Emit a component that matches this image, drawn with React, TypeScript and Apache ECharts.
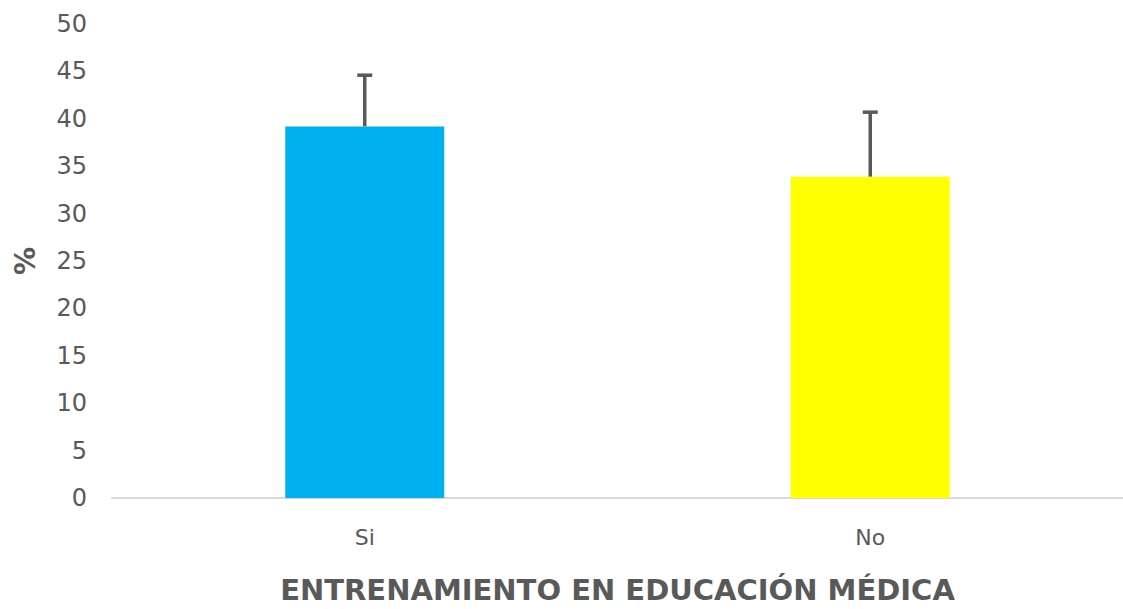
import React, { useEffect, useRef } from "react";
import * as echarts from "echarts";

const categories = ["Si", "No"];
const values = [39.2, 33.9];
const upperValues = [44.6, 40.7];
const barColors = ["#00B0F0", "#FFFF00"];
const yTicks = { min: 0, max: 50, interval: 5 };

export default function App() {
  const ref = useRef<HTMLDivElement>(null);
  useEffect(() => {
    document.body.style.margin = "0";
    if (!ref.current) return;
    const chart = echarts.init(ref.current, undefined, { renderer: "svg" });
    const font = "'DejaVu Sans', 'Open Sans', sans-serif";
    chart.setOption({
      animation: false,
      backgroundColor: "#ffffff",
      grid: { left: 112, top: 24, width: 1022, height: 478 },
      xAxis: {
        type: "category",
        data: categories,
        axisTick: { show: false },
        axisLine: { lineStyle: { color: "#d9d9d9", width: 2 } },
        axisLabel: { color: "#595959", fontSize: 22, fontFamily: font, margin: 28 },
        name: "ENTRENAMIENTO EN EDUCACIÓN MÉDICA",
        nameLocation: "middle",
        nameGap: 77,
        nameTextStyle: { color: "#595959", fontSize: 29, fontWeight: "bold", fontFamily: font },
      },
      yAxis: {
        type: "value",
        min: yTicks.min,
        max: yTicks.max,
        interval: yTicks.interval,
        splitLine: { show: false },
        axisLine: { show: false },
        axisTick: { show: false },
        axisLabel: { color: "#595959", fontSize: 24, fontFamily: font, margin: 25 },
        name: "%",
        nameLocation: "middle",
        nameRotate: 90,
        nameGap: 73,
        nameTextStyle: { color: "#595959", fontSize: 28, fontWeight: "bold", fontFamily: font },
      },
      series: [
        {
          type: "bar",
          barWidth: 159,
          data: values.map((v, i) => ({ value: v, itemStyle: { color: barColors[i] } })),
        },
        {
          type: "custom",
          data: values.map((v, i) => [i, v, upperValues[i]]),
          renderItem: (params: any, api: any) => {
            const idx = api.value(0);
            const base = api.coord([idx, api.value(1)]);
            const top = api.coord([idx, api.value(2)]);
            const style = { stroke: "#595959", lineWidth: 3.5, fill: "none" };
            return {
              type: "group",
              children: [
                { type: "line", shape: { x1: base[0], y1: base[1], x2: top[0], y2: top[1] }, style },
                { type: "line", shape: { x1: top[0] - 7.5, y1: top[1], x2: top[0] + 7.5, y2: top[1] }, style },
              ],
            };
          },
          z: 3,
        },
      ],
    });
    return () => chart.dispose();
  }, []);
  return <div ref={ref} style={{ width: 1123, height: 609 }} />;
}
